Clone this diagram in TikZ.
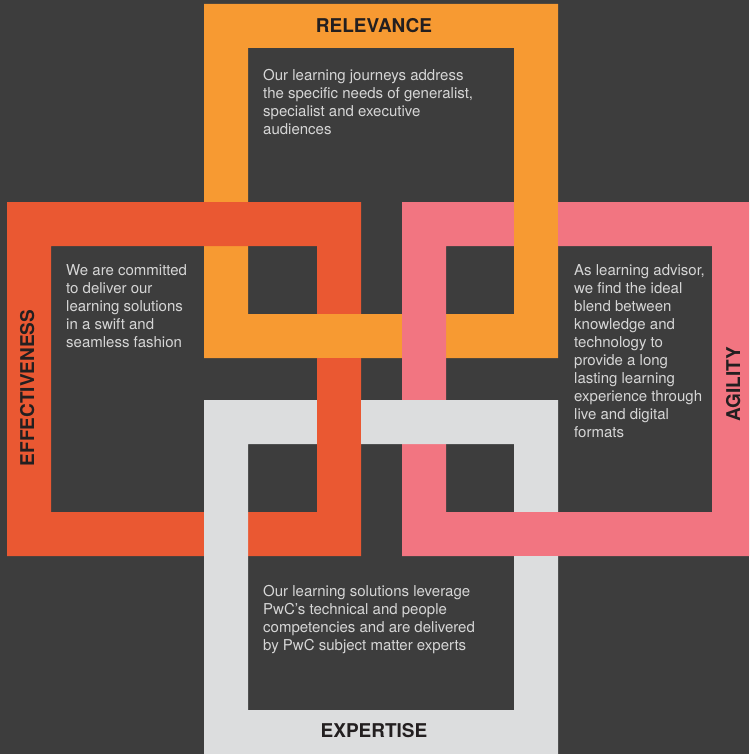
\documentclass[tikz,border=0pt]{standalone}
\usepackage{fontspec}
\setmainfont{TeX Gyre Heros}
\usepackage{tikz}

\definecolor{bgdark}{HTML}{3D3D3D}
\definecolor{relorange}{HTML}{F79A32}
\definecolor{effred}{HTML}{EA5832}
\definecolor{agipink}{HTML}{F27581}
\definecolor{expgrey}{HTML}{DCDDDE}
\definecolor{bodytxt}{HTML}{D6D6D6}
\definecolor{labeltxt}{HTML}{231F20}

\tikzset{
  bodytext/.style={anchor=north west, inner sep=0pt, align=left, text=bodytxt,
    font=\fontsize{15}{18}\selectfont},
  ringlabel/.style={anchor=base, inner sep=0pt, text=labeltxt,
    font=\fontsize{19}{22}\selectfont\bfseries},
}

\begin{document}
\begin{tikzpicture}[x=1pt, y=-1pt]
  % background
  \useasboundingbox (0,0) rectangle (749,754);
  \fill[bgdark] (0,0) rectangle (749,754);
  \clip (0,0) rectangle (749,754);

  % four square rings
  \foreach \c/\x/\y in {relorange/204/4, effred/7/202, agipink/402/202, expgrey/204/400}
    \fill[\c, even odd rule] (\x,\y) rectangle ++(354,354) (\x+44,\y+44) rectangle ++(266,266);

  % crossings where the earlier ring lies on top
  \fill[relorange] (316,314) rectangle (362,358);
  \fill[relorange] (514,201) rectangle (558,247);
  \fill[effred] (317,399) rectangle (361,445);
  \fill[agipink] (513,512) rectangle (559,556);

  % ring labels
  \node[ringlabel] (relevance) at (374,33) {RELEVANCE};
  \node[ringlabel] (expertise) at (374,737) {EXPERTISE};
  \node[ringlabel, rotate=90] (effectiveness) at (34,388) {EFFECTIVENESS};
  \node[ringlabel, rotate=90] (agility) at (740,384) {AGILITY};

  % texts inside the rings
  \node[bodytext] (reltext) at (263,69) {Our learning journeys address\\the specific needs of generalist,\\specialist and executive\\audiences};
  \node[bodytext] (efftext) at (66,264) {We are committed\\to deliver our\\learning solutions\\in a swift and\\seamless fashion};
  \node[bodytext] (agitext) at (574,264) {As learning advisor,\\we find the ideal\\blend between\\knowledge and\\technology to\\provide a long\\lasting learning\\experience through\\live and digital\\formats};
  \node[bodytext] (exptext) at (263,585) {Our learning solutions leverage\\PwC’s technical and people\\competencies and are delivered\\by PwC subject matter experts};
\end{tikzpicture}
\end{document}
